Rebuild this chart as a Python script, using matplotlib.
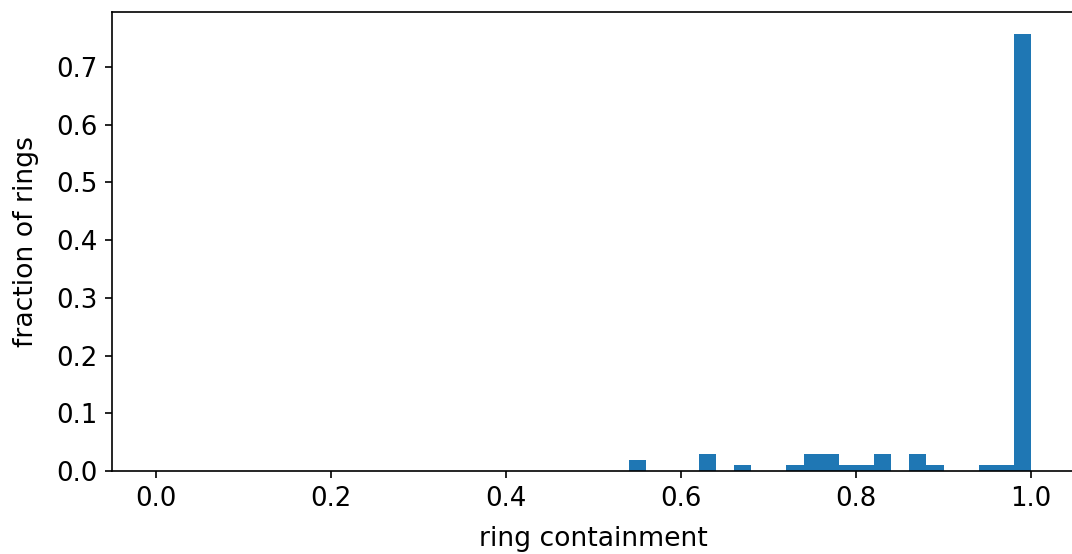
import numpy as np
import matplotlib
matplotlib.use("Agg")
import matplotlib.pyplot as plt

# left edges of the non-empty bins (bin width 0.02) and the fraction in each
bin_left = [0.54, 0.62, 0.66, 0.72, 0.74, 0.76, 0.78, 0.80, 0.82, 0.86, 0.88, 0.94, 0.96, 0.98]
fraction = [0.019, 0.029, 0.0097, 0.0097, 0.029, 0.029, 0.0097, 0.0097, 0.029, 0.029, 0.0097,
            0.0097, 0.0097, 0.757]

bins = np.linspace(0, 1, 51)
centers = np.array(bin_left) + 0.01

# the reference image is cut off on the right, so the axes run past the figure edge
fig = plt.figure(figsize=(1072 / 150, 554 / 150), dpi=150)
ax = fig.add_axes([112 / 1072, 1 - 471 / 554, (1075 - 112) / 1072, (471 - 12) / 554])
ax.hist(centers, bins=bins, weights=fraction, color="#1f77b4")
ax.set_xlabel("ring containment", fontsize=12.8, labelpad=7)
ax.set_ylabel("fraction of rings", fontsize=12.8, labelpad=8)
ax.tick_params(labelsize=12.5)

fig.savefig("out.png", dpi=150)
